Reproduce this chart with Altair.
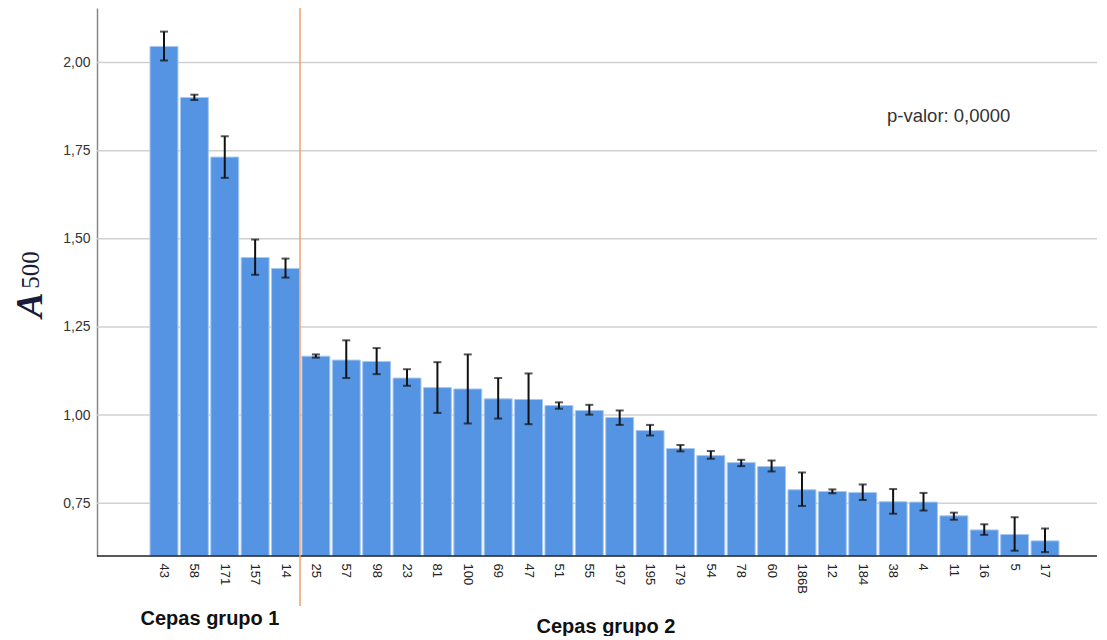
import altair as alt
import pandas as pd

cepas = ["43", "58", "171", "157", "14", "25", "57", "98", "23", "81", "100", "69", "47", "51", "55",
         "197", "195", "179", "54", "78", "60", "186B", "12", "184", "38", "4", "11", "16", "5", "17"]
media = [2.046, 1.901, 1.732, 1.447, 1.416, 1.167, 1.156, 1.152, 1.105, 1.078, 1.074, 1.046, 1.044, 1.027, 1.013,
         0.993, 0.956, 0.905, 0.885, 0.865, 0.854, 0.788, 0.783, 0.780, 0.754, 0.753, 0.714, 0.674, 0.661, 0.643]
inferior = [2.006, 1.894, 1.673, 1.398, 1.390, 1.163, 1.105, 1.116, 1.083, 1.006, 0.976, 0.990, 0.974, 1.018, 1.001,
            0.972, 0.942, 0.897, 0.876, 0.855, 0.840, 0.742, 0.778, 0.759, 0.720, 0.729, 0.703, 0.660, 0.615, 0.611]
superior = [2.088, 1.909, 1.791, 1.498, 1.444, 1.172, 1.212, 1.190, 1.130, 1.150, 1.172, 1.105, 1.118, 1.036, 1.029,
            1.013, 0.972, 0.915, 0.898, 0.873, 0.871, 0.837, 0.789, 0.803, 0.790, 0.779, 0.723, 0.690, 0.710, 0.678]
y_ticks = [0.75, 1.00, 1.25, 1.50, 1.75, 2.00]
y_min, y_max = 0.6, 2.155

df = pd.DataFrame({"cepa": cepas, "media": media, "lo": inferior, "hi": superior, "base": [y_min] * len(cepas)})
grid_df = pd.DataFrame({"v": y_ticks})

W, H = 1000, 548
xscale = alt.Scale(range=[51.8, 963.2], paddingInner=0.08, paddingOuter=0.04)
yscale = alt.Scale(domain=[y_min, y_max], zero=False, nice=False, clamp=True)

X = alt.X("cepa:N", sort=cepas, scale=xscale,
          axis=alt.Axis(title=None, domain=False, ticks=False, labelAngle=90, labelAlign="left",
                        labelBaseline="middle", labelPadding=7, labelFontSize=13, labelColor="#222222",
                        labelFont="Liberation Sans"))

grid = alt.Chart(grid_df).mark_rule(color="#d0d0d0", strokeWidth=1.5).encode(
    y=alt.Y("v:Q", scale=yscale,
            axis=alt.Axis(title=None, values=y_ticks, grid=False,
                          domainColor="#888888", domainWidth=1.5, ticks=False, labelFontSize=14,
                          labelColor="#333333", labelFont="Liberation Sans", labelPadding=7,
                          labelExpr="replace(format(datum.value, '.2f'), '.', ',')")),
    x=alt.value(0), x2=alt.value(W))

base = alt.Chart(df)

bars = base.mark_bar(color="#5594E2", stroke="#A8C8F0", strokeWidth=1).encode(
    x=X,
    y=alt.Y("media:Q", scale=yscale),
    y2="base:Q",
)

err = base.mark_rule(color="#111111", strokeWidth=2).encode(
    x=alt.X("cepa:N", sort=cepas), y="lo:Q", y2="hi:Q")
cap_lo = base.mark_tick(color="#111111", thickness=2, size=8).encode(
    x=alt.X("cepa:N", sort=cepas), y="lo:Q")
cap_hi = base.mark_tick(color="#111111", thickness=2, size=8).encode(
    x=alt.X("cepa:N", sort=cepas), y="hi:Q")

one = alt.Chart(pd.DataFrame({"k": [0]}))

x_axis_line = one.mark_rule(color="#222222", strokeWidth=1.5).encode(
    x=alt.value(0), x2=alt.value(W), y=alt.value(H))

separador = one.mark_rule(color="#F0A070", strokeWidth=1.5).encode(
    x=alt.value(203), y=alt.value(0), y2=alt.value(598))

pval = one.mark_text(align="left", baseline="middle", fontSize=18.5, color="#333333",
                     font="Liberation Sans").encode(
    x=alt.value(790), y=alt.value(108), text=alt.value("p-valor: 0,0000"))

g1 = one.mark_text(align="center", baseline="middle", fontSize=20, fontWeight="bold", color="#111111",
                   font="Liberation Sans").encode(
    x=alt.value(113), y=alt.value(611), text=alt.value("Cepas grupo 1"))
g2 = one.mark_text(align="center", baseline="middle", fontSize=20, fontWeight="bold", color="#111111",
                   font="Liberation Sans").encode(
    x=alt.value(509), y=alt.value(619), text=alt.value("Cepas grupo 2"))

ytitle_a = one.mark_text(angle=270, align="center", baseline="alphabetic", fontSize=38, fontWeight="bold",
                         fontStyle="italic", color="#1a1a3a", font="Liberation Serif").encode(
    x=alt.value(-55), y=alt.value(297), text=alt.value("A"))
ytitle_sub = one.mark_text(angle=270, align="center", baseline="alphabetic", fontSize=25,
                           color="#1a1a3a", font="Liberation Serif").encode(
    x=alt.value(-58), y=alt.value(262), text=alt.value("500"))

chart = alt.layer(grid, bars, err, cap_lo, cap_hi, x_axis_line, separador, pval, g1, g2,
                  ytitle_a, ytitle_sub).properties(
    width=W, height=H,
    autosize=alt.AutoSizeParams(type="none"),
    padding={"left": 89, "top": 0, "right": 1, "bottom": 80},
).configure_view(stroke=None)

chart.save("out.html", embed_options={"renderer": "svg", "actions": False})
